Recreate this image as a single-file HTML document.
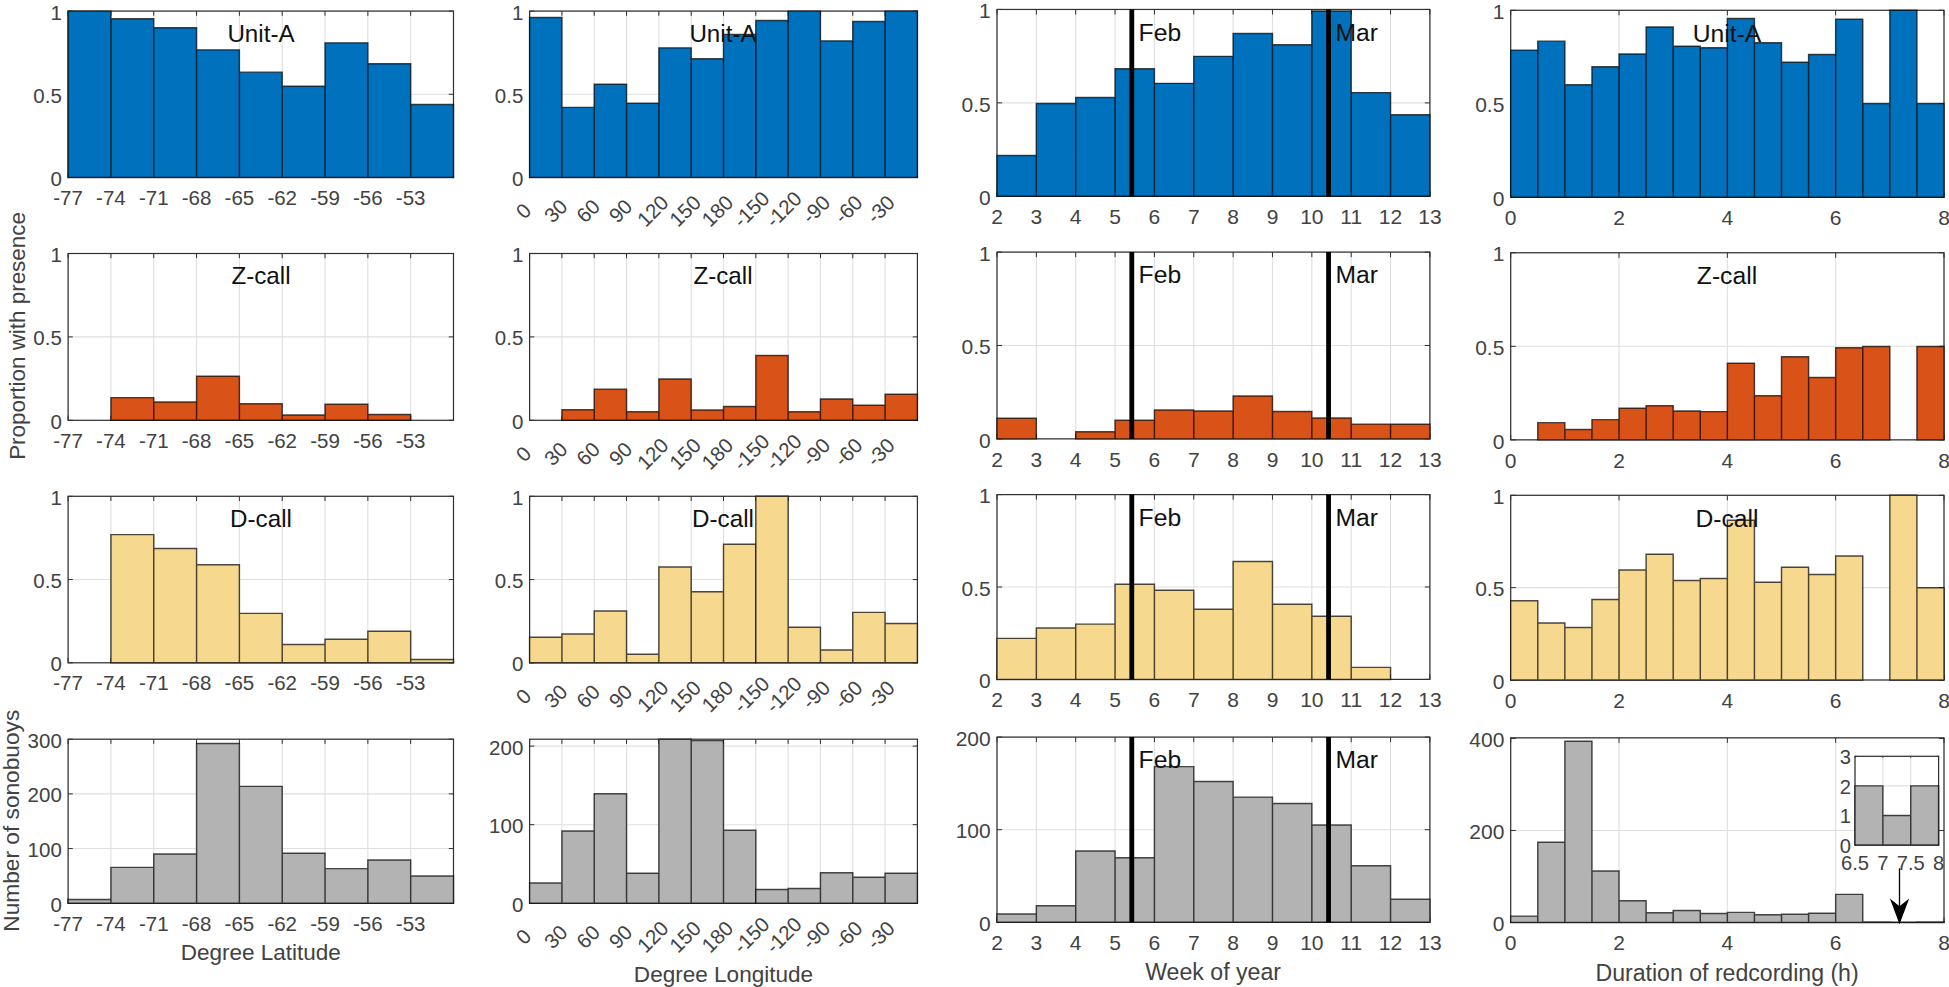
<!DOCTYPE html>
<html lang="en"><head><meta charset="utf-8"><title>Figure</title>
<style>html,body{margin:0;padding:0;background:#fff;}svg{display:block;}</style>
</head><body>
<svg width="1949" height="987" viewBox="0 0 1949 987" font-family='"Liberation Sans", Arial, Helvetica, sans-serif'>
<rect width="1949" height="987" fill="#fff"/>
<g>
<path d="M68.1 11.1V177.4M110.92 11.1V177.4M153.74 11.1V177.4M196.57 11.1V177.4M239.39 11.1V177.4M282.21 11.1V177.4M325.03 11.1V177.4M367.86 11.1V177.4M410.68 11.1V177.4M68.1 177.4H453.5M68.1 94.25H453.5M68.1 11.1H453.5" stroke="#dfdfdf" stroke-width="1.1" fill="none"/>
<path d="M68.1 177.4v-4.7M68.1 11.1v4.7M110.92 177.4v-4.7M110.92 11.1v4.7M153.74 177.4v-4.7M153.74 11.1v4.7M196.57 177.4v-4.7M196.57 11.1v4.7M239.39 177.4v-4.7M239.39 11.1v4.7M282.21 177.4v-4.7M282.21 11.1v4.7M325.03 177.4v-4.7M325.03 11.1v4.7M367.86 177.4v-4.7M367.86 11.1v4.7M410.68 177.4v-4.7M410.68 11.1v4.7M68.1 177.4h4.7M453.5 177.4h-4.7M68.1 94.25h4.7M453.5 94.25h-4.7M68.1 11.1h4.7M453.5 11.1h-4.7" stroke="#303030" stroke-width="1" fill="none"/>
<rect x="68.1" y="11.1" width="385.4" height="166.3" fill="none" stroke="#303030" stroke-width="1.2"/>
<path d="M68.1 177.4V11.1H110.92V177.4ZM110.92 177.4V18.75H153.74V177.4ZM153.74 177.4V27.73H196.57V177.4ZM196.57 177.4V49.85H239.39V177.4ZM239.39 177.4V72.13H282.21V177.4ZM282.21 177.4V86.27H325.03V177.4ZM325.03 177.4V42.86H367.86V177.4ZM367.86 177.4V63.65H410.68V177.4ZM410.68 177.4V104.56H453.5V177.4Z" fill="#0072bd" stroke="#000" stroke-opacity="0.7" stroke-width="1.45" stroke-linejoin="miter"/>
<text x="261" y="41.6" font-size="24.2" fill="#111" text-anchor="middle">Unit-A</text>
<g font-size="20.5" fill="#424242">
<text x="61.8" y="185.89" text-anchor="end">0</text>
<text x="61.8" y="102.74" text-anchor="end">0.5</text>
<text x="61.8" y="19.59" text-anchor="end">1</text>
<text x="68.1" y="205" text-anchor="middle">-77</text>
<text x="110.92" y="205" text-anchor="middle">-74</text>
<text x="153.74" y="205" text-anchor="middle">-71</text>
<text x="196.57" y="205" text-anchor="middle">-68</text>
<text x="239.39" y="205" text-anchor="middle">-65</text>
<text x="282.21" y="205" text-anchor="middle">-62</text>
<text x="325.03" y="205" text-anchor="middle">-59</text>
<text x="367.86" y="205" text-anchor="middle">-56</text>
<text x="410.68" y="205" text-anchor="middle">-53</text>
</g>
</g>
<g>
<path d="M529.6 11.1V177.4M561.92 11.1V177.4M594.23 11.1V177.4M626.55 11.1V177.4M658.87 11.1V177.4M691.18 11.1V177.4M723.5 11.1V177.4M755.82 11.1V177.4M788.13 11.1V177.4M820.45 11.1V177.4M852.77 11.1V177.4M885.08 11.1V177.4M529.6 177.4H917.4M529.6 94.25H917.4M529.6 11.1H917.4" stroke="#dfdfdf" stroke-width="1.1" fill="none"/>
<path d="M529.6 177.4v-4.7M529.6 11.1v4.7M561.92 177.4v-4.7M561.92 11.1v4.7M594.23 177.4v-4.7M594.23 11.1v4.7M626.55 177.4v-4.7M626.55 11.1v4.7M658.87 177.4v-4.7M658.87 11.1v4.7M691.18 177.4v-4.7M691.18 11.1v4.7M723.5 177.4v-4.7M723.5 11.1v4.7M755.82 177.4v-4.7M755.82 11.1v4.7M788.13 177.4v-4.7M788.13 11.1v4.7M820.45 177.4v-4.7M820.45 11.1v4.7M852.77 177.4v-4.7M852.77 11.1v4.7M885.08 177.4v-4.7M885.08 11.1v4.7M529.6 177.4h4.7M917.4 177.4h-4.7M529.6 94.25h4.7M917.4 94.25h-4.7M529.6 11.1h4.7M917.4 11.1h-4.7" stroke="#303030" stroke-width="1" fill="none"/>
<rect x="529.6" y="11.1" width="387.8" height="166.3" fill="none" stroke="#303030" stroke-width="1.2"/>
<path d="M529.6 177.4V17.59H561.92V177.4ZM561.92 177.4V107.39H594.23V177.4ZM594.23 177.4V84.27H626.55V177.4ZM626.55 177.4V103.23H658.87V177.4ZM658.87 177.4V47.85H691.18V177.4ZM691.18 177.4V58.83H723.5V177.4ZM723.5 177.4V34.38H755.82V177.4Z" fill="#0072bd" stroke="#000" stroke-opacity="0.7" stroke-width="1.45" stroke-linejoin="miter"/>
<text x="723" y="41.6" font-size="24.2" fill="#111" text-anchor="middle">Unit-A</text>
<path d="M755.82 177.4V20.41H788.13V177.4ZM788.13 177.4V11.1H820.45V177.4ZM820.45 177.4V40.87H852.77V177.4ZM852.77 177.4V21.41H885.08V177.4ZM885.08 177.4V11.1H917.4V177.4Z" fill="#0072bd" stroke="#000" stroke-opacity="0.7" stroke-width="1.45" stroke-linejoin="miter"/>
<g font-size="20.5" fill="#424242">
<text x="523.3" y="185.89" text-anchor="end">0</text>
<text x="523.3" y="102.74" text-anchor="end">0.5</text>
<text x="523.3" y="19.59" text-anchor="end">1</text>
<text transform="translate(534.2 189.4) rotate(-45)" text-anchor="end" y="14.76">0&#160;&#160;&#160;</text>
<text transform="translate(566.52 189.4) rotate(-45)" text-anchor="end" y="14.76">30&#160;&#160;</text>
<text transform="translate(598.83 189.4) rotate(-45)" text-anchor="end" y="14.76">60&#160;&#160;</text>
<text transform="translate(631.15 189.4) rotate(-45)" text-anchor="end" y="14.76">90&#160;&#160;</text>
<text transform="translate(663.47 189.4) rotate(-45)" text-anchor="end" y="14.76">120&#160;</text>
<text transform="translate(695.78 189.4) rotate(-45)" text-anchor="end" y="14.76">150&#160;</text>
<text transform="translate(728.1 189.4) rotate(-45)" text-anchor="end" y="14.76">180&#160;</text>
<text transform="translate(760.42 189.4) rotate(-45)" text-anchor="end" y="14.76">-150</text>
<text transform="translate(792.73 189.4) rotate(-45)" text-anchor="end" y="14.76">-120</text>
<text transform="translate(825.05 189.4) rotate(-45)" text-anchor="end" y="14.76">-90&#160;</text>
<text transform="translate(857.37 189.4) rotate(-45)" text-anchor="end" y="14.76">-60&#160;</text>
<text transform="translate(889.68 189.4) rotate(-45)" text-anchor="end" y="14.76">-30&#160;</text>
</g>
</g>
<g>
<path d="M997 9.45V196.3M1036.35 9.45V196.3M1075.71 9.45V196.3M1115.06 9.45V196.3M1154.42 9.45V196.3M1193.77 9.45V196.3M1233.13 9.45V196.3M1272.48 9.45V196.3M1311.84 9.45V196.3M1351.19 9.45V196.3M1390.55 9.45V196.3M1429.9 9.45V196.3M997 196.3H1429.9M997 102.88H1429.9M997 9.45H1429.9" stroke="#dfdfdf" stroke-width="1.1" fill="none"/>
<path d="M997 196.3v-5.1M997 9.45v5.1M1036.35 196.3v-5.1M1036.35 9.45v5.1M1075.71 196.3v-5.1M1075.71 9.45v5.1M1115.06 196.3v-5.1M1115.06 9.45v5.1M1154.42 196.3v-5.1M1154.42 9.45v5.1M1193.77 196.3v-5.1M1193.77 9.45v5.1M1233.13 196.3v-5.1M1233.13 9.45v5.1M1272.48 196.3v-5.1M1272.48 9.45v5.1M1311.84 196.3v-5.1M1311.84 9.45v5.1M1351.19 196.3v-5.1M1351.19 9.45v5.1M1390.55 196.3v-5.1M1390.55 9.45v5.1M1429.9 196.3v-5.1M1429.9 9.45v5.1M997 196.3h5.1M1429.9 196.3h-5.1M997 102.88h5.1M1429.9 102.88h-5.1M997 9.45h5.1M1429.9 9.45h-5.1" stroke="#303030" stroke-width="1" fill="none"/>
<rect x="997" y="9.45" width="432.9" height="186.85" fill="none" stroke="#303030" stroke-width="1.2"/>
<path d="M997 196.3V155.47H1036.35V196.3ZM1036.35 196.3V103.44H1075.71V196.3ZM1075.71 196.3V97.46H1115.06V196.3ZM1115.06 196.3V68.68H1154.42V196.3ZM1154.42 196.3V83.35H1193.77V196.3ZM1193.77 196.3V56.35H1233.13V196.3ZM1233.13 196.3V33.55H1272.48V196.3ZM1272.48 196.3V44.84H1311.84V196.3ZM1311.84 196.3V10.94H1351.19V196.3ZM1351.19 196.3V92.6H1390.55V196.3ZM1390.55 196.3V114.65H1429.9V196.3Z" fill="#0072bd" stroke="#000" stroke-opacity="0.7" stroke-width="1.45" stroke-linejoin="miter"/>
<text x="1138.6" y="40.55" font-size="24.7" fill="#111">Feb</text>
<text x="1335.5" y="40.55" font-size="24.7" fill="#111">Mar</text>
<line x1="1131.79" x2="1131.79" y1="9.45" y2="196.3" stroke="#000" stroke-width="4.8"/>
<line x1="1328.56" x2="1328.56" y1="9.45" y2="196.3" stroke="#000" stroke-width="4.8"/>
<g font-size="21.0" fill="#424242">
<text x="990.7" y="204.97" text-anchor="end">0</text>
<text x="990.7" y="111.54" text-anchor="end">0.5</text>
<text x="990.7" y="18.12" text-anchor="end">1</text>
<text x="997" y="224.1" text-anchor="middle">2</text>
<text x="1036.35" y="224.1" text-anchor="middle">3</text>
<text x="1075.71" y="224.1" text-anchor="middle">4</text>
<text x="1115.06" y="224.1" text-anchor="middle">5</text>
<text x="1154.42" y="224.1" text-anchor="middle">6</text>
<text x="1193.77" y="224.1" text-anchor="middle">7</text>
<text x="1233.13" y="224.1" text-anchor="middle">8</text>
<text x="1272.48" y="224.1" text-anchor="middle">9</text>
<text x="1311.84" y="224.1" text-anchor="middle">10</text>
<text x="1351.19" y="224.1" text-anchor="middle">11</text>
<text x="1390.55" y="224.1" text-anchor="middle">12</text>
<text x="1429.9" y="224.1" text-anchor="middle">13</text>
</g>
</g>
<g>
<path d="M1510.7 10.3V197.2M1619.03 10.3V197.2M1727.35 10.3V197.2M1835.67 10.3V197.2M1944 10.3V197.2M1510.7 197.2H1944M1510.7 103.75H1944M1510.7 10.3H1944" stroke="#dfdfdf" stroke-width="1.1" fill="none"/>
<path d="M1510.7 197.2v-5.1M1510.7 10.3v5.1M1619.03 197.2v-5.1M1619.03 10.3v5.1M1727.35 197.2v-5.1M1727.35 10.3v5.1M1835.67 197.2v-5.1M1835.67 10.3v5.1M1944 197.2v-5.1M1944 10.3v5.1M1510.7 197.2h5.1M1944 197.2h-5.1M1510.7 103.75h5.1M1944 103.75h-5.1M1510.7 10.3h5.1M1944 10.3h-5.1" stroke="#303030" stroke-width="1" fill="none"/>
<rect x="1510.7" y="10.3" width="433.3" height="186.9" fill="none" stroke="#303030" stroke-width="1.2"/>
<path d="M1510.7 197.2V50.11H1537.78V197.2ZM1537.78 197.2V41.14H1564.86V197.2ZM1564.86 197.2V84.69H1591.94V197.2ZM1591.94 197.2V66.74H1619.03V197.2ZM1619.03 197.2V54.03H1646.11V197.2ZM1646.11 197.2V26.93H1673.19V197.2ZM1673.19 197.2V46.18H1700.27V197.2ZM1700.27 197.2V47.68H1727.35V197.2ZM1727.35 197.2V18.52H1754.43V197.2ZM1754.43 197.2V42.82H1781.51V197.2ZM1781.51 197.2V62.16H1808.59V197.2ZM1808.59 197.2V54.41H1835.67V197.2ZM1835.67 197.2V19.27H1862.76V197.2ZM1862.76 197.2V103.56H1889.84V197.2ZM1889.84 197.2V10.3H1916.92V197.2ZM1916.92 197.2V103.56H1944V197.2Z" fill="#0072bd" stroke="#000" stroke-opacity="0.7" stroke-width="1.45" stroke-linejoin="miter"/>
<text x="1727" y="41.8" font-size="24.7" fill="#111" text-anchor="middle">Unit-A</text>
<g font-size="21.0" fill="#424242">
<text x="1504.4" y="205.87" text-anchor="end">0</text>
<text x="1504.4" y="112.42" text-anchor="end">0.5</text>
<text x="1504.4" y="18.97" text-anchor="end">1</text>
<text x="1510.7" y="225" text-anchor="middle">0</text>
<text x="1619.03" y="225" text-anchor="middle">2</text>
<text x="1727.35" y="225" text-anchor="middle">4</text>
<text x="1835.67" y="225" text-anchor="middle">6</text>
<text x="1944" y="225" text-anchor="middle">8</text>
</g>
</g>
<g>
<path d="M68.1 253.5V420.3M110.92 253.5V420.3M153.74 253.5V420.3M196.57 253.5V420.3M239.39 253.5V420.3M282.21 253.5V420.3M325.03 253.5V420.3M367.86 253.5V420.3M410.68 253.5V420.3M68.1 420.3H453.5M68.1 336.9H453.5M68.1 253.5H453.5" stroke="#dfdfdf" stroke-width="1.1" fill="none"/>
<path d="M68.1 420.3v-4.7M68.1 253.5v4.7M110.92 420.3v-4.7M110.92 253.5v4.7M153.74 420.3v-4.7M153.74 253.5v4.7M196.57 420.3v-4.7M196.57 253.5v4.7M239.39 420.3v-4.7M239.39 253.5v4.7M282.21 420.3v-4.7M282.21 253.5v4.7M325.03 420.3v-4.7M325.03 253.5v4.7M367.86 420.3v-4.7M367.86 253.5v4.7M410.68 420.3v-4.7M410.68 253.5v4.7M68.1 420.3h4.7M453.5 420.3h-4.7M68.1 336.9h4.7M453.5 336.9h-4.7M68.1 253.5h4.7M453.5 253.5h-4.7" stroke="#303030" stroke-width="1" fill="none"/>
<rect x="68.1" y="253.5" width="385.4" height="166.8" fill="none" stroke="#303030" stroke-width="1.2"/>
<path d="M110.92 420.3V397.62H153.74V420.3ZM153.74 420.3V401.95H196.57V420.3ZM196.57 420.3V376.26H239.39V420.3ZM239.39 420.3V403.79H282.21V420.3ZM282.21 420.3V414.96H325.03V420.3ZM325.03 420.3V404.29H367.86V420.3ZM367.86 420.3V414.46H410.68V420.3Z" fill="#d95319" stroke="#000" stroke-opacity="0.7" stroke-width="1.45" stroke-linejoin="miter"/>
<text x="261" y="284" font-size="24.2" fill="#111" text-anchor="middle">Z-call</text>
<g font-size="20.5" fill="#424242">
<text x="61.8" y="428.79" text-anchor="end">0</text>
<text x="61.8" y="345.39" text-anchor="end">0.5</text>
<text x="61.8" y="261.99" text-anchor="end">1</text>
<text x="68.1" y="447.9" text-anchor="middle">-77</text>
<text x="110.92" y="447.9" text-anchor="middle">-74</text>
<text x="153.74" y="447.9" text-anchor="middle">-71</text>
<text x="196.57" y="447.9" text-anchor="middle">-68</text>
<text x="239.39" y="447.9" text-anchor="middle">-65</text>
<text x="282.21" y="447.9" text-anchor="middle">-62</text>
<text x="325.03" y="447.9" text-anchor="middle">-59</text>
<text x="367.86" y="447.9" text-anchor="middle">-56</text>
<text x="410.68" y="447.9" text-anchor="middle">-53</text>
</g>
</g>
<g>
<path d="M529.6 253.5V420.3M561.92 253.5V420.3M594.23 253.5V420.3M626.55 253.5V420.3M658.87 253.5V420.3M691.18 253.5V420.3M723.5 253.5V420.3M755.82 253.5V420.3M788.13 253.5V420.3M820.45 253.5V420.3M852.77 253.5V420.3M885.08 253.5V420.3M529.6 420.3H917.4M529.6 336.9H917.4M529.6 253.5H917.4" stroke="#dfdfdf" stroke-width="1.1" fill="none"/>
<path d="M529.6 420.3v-4.7M529.6 253.5v4.7M561.92 420.3v-4.7M561.92 253.5v4.7M594.23 420.3v-4.7M594.23 253.5v4.7M626.55 420.3v-4.7M626.55 253.5v4.7M658.87 420.3v-4.7M658.87 253.5v4.7M691.18 420.3v-4.7M691.18 253.5v4.7M723.5 420.3v-4.7M723.5 253.5v4.7M755.82 420.3v-4.7M755.82 253.5v4.7M788.13 420.3v-4.7M788.13 253.5v4.7M820.45 420.3v-4.7M820.45 253.5v4.7M852.77 420.3v-4.7M852.77 253.5v4.7M885.08 420.3v-4.7M885.08 253.5v4.7M529.6 420.3h4.7M917.4 420.3h-4.7M529.6 336.9h4.7M917.4 336.9h-4.7M529.6 253.5h4.7M917.4 253.5h-4.7" stroke="#303030" stroke-width="1" fill="none"/>
<rect x="529.6" y="253.5" width="387.8" height="166.8" fill="none" stroke="#303030" stroke-width="1.2"/>
<path d="M561.92 420.3V409.79H594.23V420.3ZM594.23 420.3V389.11H626.55V420.3ZM626.55 420.3V411.79H658.87V420.3ZM658.87 420.3V378.93H691.18V420.3ZM691.18 420.3V409.96H723.5V420.3ZM723.5 420.3V406.46H755.82V420.3Z" fill="#d95319" stroke="#000" stroke-opacity="0.7" stroke-width="1.45" stroke-linejoin="miter"/>
<text x="723" y="284" font-size="24.2" fill="#111" text-anchor="middle">Z-call</text>
<path d="M755.82 420.3V355.41H788.13V420.3ZM788.13 420.3V411.79H820.45V420.3ZM820.45 420.3V398.95H852.77V420.3ZM852.77 420.3V405.29H885.08V420.3ZM885.08 420.3V394.28H917.4V420.3Z" fill="#d95319" stroke="#000" stroke-opacity="0.7" stroke-width="1.45" stroke-linejoin="miter"/>
<g font-size="20.5" fill="#424242">
<text x="523.3" y="428.79" text-anchor="end">0</text>
<text x="523.3" y="345.39" text-anchor="end">0.5</text>
<text x="523.3" y="261.99" text-anchor="end">1</text>
<text transform="translate(534.2 432.3) rotate(-45)" text-anchor="end" y="14.76">0&#160;&#160;&#160;</text>
<text transform="translate(566.52 432.3) rotate(-45)" text-anchor="end" y="14.76">30&#160;&#160;</text>
<text transform="translate(598.83 432.3) rotate(-45)" text-anchor="end" y="14.76">60&#160;&#160;</text>
<text transform="translate(631.15 432.3) rotate(-45)" text-anchor="end" y="14.76">90&#160;&#160;</text>
<text transform="translate(663.47 432.3) rotate(-45)" text-anchor="end" y="14.76">120&#160;</text>
<text transform="translate(695.78 432.3) rotate(-45)" text-anchor="end" y="14.76">150&#160;</text>
<text transform="translate(728.1 432.3) rotate(-45)" text-anchor="end" y="14.76">180&#160;</text>
<text transform="translate(760.42 432.3) rotate(-45)" text-anchor="end" y="14.76">-150</text>
<text transform="translate(792.73 432.3) rotate(-45)" text-anchor="end" y="14.76">-120</text>
<text transform="translate(825.05 432.3) rotate(-45)" text-anchor="end" y="14.76">-90&#160;</text>
<text transform="translate(857.37 432.3) rotate(-45)" text-anchor="end" y="14.76">-60&#160;</text>
<text transform="translate(889.68 432.3) rotate(-45)" text-anchor="end" y="14.76">-30&#160;</text>
</g>
</g>
<g>
<path d="M997 252.1V438.85M1036.35 252.1V438.85M1075.71 252.1V438.85M1115.06 252.1V438.85M1154.42 252.1V438.85M1193.77 252.1V438.85M1233.13 252.1V438.85M1272.48 252.1V438.85M1311.84 252.1V438.85M1351.19 252.1V438.85M1390.55 252.1V438.85M1429.9 252.1V438.85M997 438.85H1429.9M997 345.48H1429.9M997 252.1H1429.9" stroke="#dfdfdf" stroke-width="1.1" fill="none"/>
<path d="M997 438.85v-5.1M997 252.1v5.1M1036.35 438.85v-5.1M1036.35 252.1v5.1M1075.71 438.85v-5.1M1075.71 252.1v5.1M1115.06 438.85v-5.1M1115.06 252.1v5.1M1154.42 438.85v-5.1M1154.42 252.1v5.1M1193.77 438.85v-5.1M1193.77 252.1v5.1M1233.13 438.85v-5.1M1233.13 252.1v5.1M1272.48 438.85v-5.1M1272.48 252.1v5.1M1311.84 438.85v-5.1M1311.84 252.1v5.1M1351.19 438.85v-5.1M1351.19 252.1v5.1M1390.55 438.85v-5.1M1390.55 252.1v5.1M1429.9 438.85v-5.1M1429.9 252.1v5.1M997 438.85h5.1M1429.9 438.85h-5.1M997 345.48h5.1M1429.9 345.48h-5.1M997 252.1h5.1M1429.9 252.1h-5.1" stroke="#303030" stroke-width="1" fill="none"/>
<rect x="997" y="252.1" width="432.9" height="186.75" fill="none" stroke="#303030" stroke-width="1.2"/>
<path d="M997 438.85V418.31H1036.35V438.85ZM1075.71 438.85V431.75H1115.06V438.85ZM1115.06 438.85V420.18H1154.42V438.85ZM1154.42 438.85V410.09H1193.77V438.85ZM1193.77 438.85V411.02H1233.13V438.85ZM1233.13 438.85V396.08H1272.48V438.85ZM1272.48 438.85V411.4H1311.84V438.85ZM1311.84 438.85V417.93H1351.19V438.85ZM1351.19 438.85V424.1H1390.55V438.85ZM1390.55 438.85V424.28H1429.9V438.85Z" fill="#d95319" stroke="#000" stroke-opacity="0.7" stroke-width="1.45" stroke-linejoin="miter"/>
<text x="1138.6" y="283.2" font-size="24.7" fill="#111">Feb</text>
<text x="1335.5" y="283.2" font-size="24.7" fill="#111">Mar</text>
<line x1="1131.79" x2="1131.79" y1="252.1" y2="438.85" stroke="#000" stroke-width="4.8"/>
<line x1="1328.56" x2="1328.56" y1="252.1" y2="438.85" stroke="#000" stroke-width="4.8"/>
<g font-size="21.0" fill="#424242">
<text x="990.7" y="447.52" text-anchor="end">0</text>
<text x="990.7" y="354.14" text-anchor="end">0.5</text>
<text x="990.7" y="260.77" text-anchor="end">1</text>
<text x="997" y="466.65" text-anchor="middle">2</text>
<text x="1036.35" y="466.65" text-anchor="middle">3</text>
<text x="1075.71" y="466.65" text-anchor="middle">4</text>
<text x="1115.06" y="466.65" text-anchor="middle">5</text>
<text x="1154.42" y="466.65" text-anchor="middle">6</text>
<text x="1193.77" y="466.65" text-anchor="middle">7</text>
<text x="1233.13" y="466.65" text-anchor="middle">8</text>
<text x="1272.48" y="466.65" text-anchor="middle">9</text>
<text x="1311.84" y="466.65" text-anchor="middle">10</text>
<text x="1351.19" y="466.65" text-anchor="middle">11</text>
<text x="1390.55" y="466.65" text-anchor="middle">12</text>
<text x="1429.9" y="466.65" text-anchor="middle">13</text>
</g>
</g>
<g>
<path d="M1510.7 252.75V439.85M1619.03 252.75V439.85M1727.35 252.75V439.85M1835.67 252.75V439.85M1944 252.75V439.85M1510.7 439.85H1944M1510.7 346.3H1944M1510.7 252.75H1944" stroke="#dfdfdf" stroke-width="1.1" fill="none"/>
<path d="M1510.7 439.85v-5.1M1510.7 252.75v5.1M1619.03 439.85v-5.1M1619.03 252.75v5.1M1727.35 439.85v-5.1M1727.35 252.75v5.1M1835.67 439.85v-5.1M1835.67 252.75v5.1M1944 439.85v-5.1M1944 252.75v5.1M1510.7 439.85h5.1M1944 439.85h-5.1M1510.7 346.3h5.1M1944 346.3h-5.1M1510.7 252.75h5.1M1944 252.75h-5.1" stroke="#303030" stroke-width="1" fill="none"/>
<rect x="1510.7" y="252.75" width="433.3" height="187.1" fill="none" stroke="#303030" stroke-width="1.2"/>
<path d="M1537.78 439.85V422.64H1564.86V439.85ZM1564.86 439.85V429.56H1591.94V439.85ZM1591.94 439.85V419.64H1619.03V439.85ZM1619.03 439.85V408.23H1646.11V439.85ZM1646.11 439.85V405.8H1673.19V439.85ZM1673.19 439.85V411.04H1700.27V439.85ZM1700.27 439.85V411.6H1727.35V439.85ZM1727.35 439.85V363.33H1754.43V439.85ZM1754.43 439.85V395.69H1781.51V439.85ZM1781.51 439.85V356.78H1808.59V439.85ZM1808.59 439.85V377.55H1835.67V439.85ZM1835.67 439.85V347.8H1862.76V439.85ZM1862.76 439.85V346.49H1889.84V439.85ZM1916.92 439.85V346.49H1944V439.85Z" fill="#d95319" stroke="#000" stroke-opacity="0.7" stroke-width="1.45" stroke-linejoin="miter"/>
<text x="1727" y="284.25" font-size="24.7" fill="#111" text-anchor="middle">Z-call</text>
<g font-size="21.0" fill="#424242">
<text x="1504.4" y="448.52" text-anchor="end">0</text>
<text x="1504.4" y="354.97" text-anchor="end">0.5</text>
<text x="1504.4" y="261.42" text-anchor="end">1</text>
<text x="1510.7" y="467.65" text-anchor="middle">0</text>
<text x="1619.03" y="467.65" text-anchor="middle">2</text>
<text x="1727.35" y="467.65" text-anchor="middle">4</text>
<text x="1835.67" y="467.65" text-anchor="middle">6</text>
<text x="1944" y="467.65" text-anchor="middle">8</text>
</g>
</g>
<g>
<path d="M68.1 496.3V662.8M110.92 496.3V662.8M153.74 496.3V662.8M196.57 496.3V662.8M239.39 496.3V662.8M282.21 496.3V662.8M325.03 496.3V662.8M367.86 496.3V662.8M410.68 496.3V662.8M68.1 662.8H453.5M68.1 579.55H453.5M68.1 496.3H453.5" stroke="#dfdfdf" stroke-width="1.1" fill="none"/>
<path d="M68.1 662.8v-4.7M68.1 496.3v4.7M110.92 662.8v-4.7M110.92 496.3v4.7M153.74 662.8v-4.7M153.74 496.3v4.7M196.57 662.8v-4.7M196.57 496.3v4.7M239.39 662.8v-4.7M239.39 496.3v4.7M282.21 662.8v-4.7M282.21 496.3v4.7M325.03 662.8v-4.7M325.03 496.3v4.7M367.86 662.8v-4.7M367.86 496.3v4.7M410.68 662.8v-4.7M410.68 496.3v4.7M68.1 662.8h4.7M453.5 662.8h-4.7M68.1 579.55h4.7M453.5 579.55h-4.7M68.1 496.3h4.7M453.5 496.3h-4.7" stroke="#303030" stroke-width="1" fill="none"/>
<rect x="68.1" y="496.3" width="385.4" height="166.5" fill="none" stroke="#303030" stroke-width="1.2"/>
<path d="M110.92 662.8V534.6H153.74V662.8ZM153.74 662.8V548.58H196.57V662.8ZM196.57 662.8V564.73H239.39V662.8ZM239.39 662.8V613.35H282.21V662.8ZM282.21 662.8V644.49H325.03V662.8ZM325.03 662.8V639.16H367.86V662.8ZM367.86 662.8V631.16H410.68V662.8ZM410.68 662.8V659.47H453.5V662.8Z" fill="#f6d98e" stroke="#000" stroke-opacity="0.7" stroke-width="1.45" stroke-linejoin="miter"/>
<text x="261" y="526.8" font-size="24.2" fill="#111" text-anchor="middle">D-call</text>
<g font-size="20.5" fill="#424242">
<text x="61.8" y="671.29" text-anchor="end">0</text>
<text x="61.8" y="588.04" text-anchor="end">0.5</text>
<text x="61.8" y="504.79" text-anchor="end">1</text>
<text x="68.1" y="690.4" text-anchor="middle">-77</text>
<text x="110.92" y="690.4" text-anchor="middle">-74</text>
<text x="153.74" y="690.4" text-anchor="middle">-71</text>
<text x="196.57" y="690.4" text-anchor="middle">-68</text>
<text x="239.39" y="690.4" text-anchor="middle">-65</text>
<text x="282.21" y="690.4" text-anchor="middle">-62</text>
<text x="325.03" y="690.4" text-anchor="middle">-59</text>
<text x="367.86" y="690.4" text-anchor="middle">-56</text>
<text x="410.68" y="690.4" text-anchor="middle">-53</text>
</g>
</g>
<g>
<path d="M529.6 496.3V662.8M561.92 496.3V662.8M594.23 496.3V662.8M626.55 496.3V662.8M658.87 496.3V662.8M691.18 496.3V662.8M723.5 496.3V662.8M755.82 496.3V662.8M788.13 496.3V662.8M820.45 496.3V662.8M852.77 496.3V662.8M885.08 496.3V662.8M529.6 662.8H917.4M529.6 579.55H917.4M529.6 496.3H917.4" stroke="#dfdfdf" stroke-width="1.1" fill="none"/>
<path d="M529.6 662.8v-4.7M529.6 496.3v4.7M561.92 662.8v-4.7M561.92 496.3v4.7M594.23 662.8v-4.7M594.23 496.3v4.7M626.55 662.8v-4.7M626.55 496.3v4.7M658.87 662.8v-4.7M658.87 496.3v4.7M691.18 662.8v-4.7M691.18 496.3v4.7M723.5 662.8v-4.7M723.5 496.3v4.7M755.82 662.8v-4.7M755.82 496.3v4.7M788.13 662.8v-4.7M788.13 496.3v4.7M820.45 662.8v-4.7M820.45 496.3v4.7M852.77 662.8v-4.7M852.77 496.3v4.7M885.08 662.8v-4.7M885.08 496.3v4.7M529.6 662.8h4.7M917.4 662.8h-4.7M529.6 579.55h4.7M917.4 579.55h-4.7M529.6 496.3h4.7M917.4 496.3h-4.7" stroke="#303030" stroke-width="1" fill="none"/>
<rect x="529.6" y="496.3" width="387.8" height="166.5" fill="none" stroke="#303030" stroke-width="1.2"/>
<path d="M529.6 662.8V637.33H561.92V662.8ZM561.92 662.8V634H594.23V662.8ZM594.23 662.8V611.02H626.55V662.8ZM626.55 662.8V654.31H658.87V662.8ZM658.87 662.8V567.06H691.18V662.8ZM691.18 662.8V591.7H723.5V662.8ZM723.5 662.8V544.17H755.82V662.8Z" fill="#f6d98e" stroke="#000" stroke-opacity="0.7" stroke-width="1.45" stroke-linejoin="miter"/>
<text x="723" y="526.8" font-size="24.2" fill="#111" text-anchor="middle">D-call</text>
<path d="M755.82 662.8V496.3H788.13V662.8ZM788.13 662.8V627.34H820.45V662.8ZM820.45 662.8V649.98H852.77V662.8ZM852.77 662.8V612.35H885.08V662.8ZM885.08 662.8V623.42H917.4V662.8Z" fill="#f6d98e" stroke="#000" stroke-opacity="0.7" stroke-width="1.45" stroke-linejoin="miter"/>
<g font-size="20.5" fill="#424242">
<text x="523.3" y="671.29" text-anchor="end">0</text>
<text x="523.3" y="588.04" text-anchor="end">0.5</text>
<text x="523.3" y="504.79" text-anchor="end">1</text>
<text transform="translate(534.2 674.8) rotate(-45)" text-anchor="end" y="14.76">0&#160;&#160;&#160;</text>
<text transform="translate(566.52 674.8) rotate(-45)" text-anchor="end" y="14.76">30&#160;&#160;</text>
<text transform="translate(598.83 674.8) rotate(-45)" text-anchor="end" y="14.76">60&#160;&#160;</text>
<text transform="translate(631.15 674.8) rotate(-45)" text-anchor="end" y="14.76">90&#160;&#160;</text>
<text transform="translate(663.47 674.8) rotate(-45)" text-anchor="end" y="14.76">120&#160;</text>
<text transform="translate(695.78 674.8) rotate(-45)" text-anchor="end" y="14.76">150&#160;</text>
<text transform="translate(728.1 674.8) rotate(-45)" text-anchor="end" y="14.76">180&#160;</text>
<text transform="translate(760.42 674.8) rotate(-45)" text-anchor="end" y="14.76">-150</text>
<text transform="translate(792.73 674.8) rotate(-45)" text-anchor="end" y="14.76">-120</text>
<text transform="translate(825.05 674.8) rotate(-45)" text-anchor="end" y="14.76">-90&#160;</text>
<text transform="translate(857.37 674.8) rotate(-45)" text-anchor="end" y="14.76">-60&#160;</text>
<text transform="translate(889.68 674.8) rotate(-45)" text-anchor="end" y="14.76">-30&#160;</text>
</g>
</g>
<g>
<path d="M997 494.6V679.4M1036.35 494.6V679.4M1075.71 494.6V679.4M1115.06 494.6V679.4M1154.42 494.6V679.4M1193.77 494.6V679.4M1233.13 494.6V679.4M1272.48 494.6V679.4M1311.84 494.6V679.4M1351.19 494.6V679.4M1390.55 494.6V679.4M1429.9 494.6V679.4M997 679.4H1429.9M997 587H1429.9M997 494.6H1429.9" stroke="#dfdfdf" stroke-width="1.1" fill="none"/>
<path d="M997 679.4v-5.1M997 494.6v5.1M1036.35 679.4v-5.1M1036.35 494.6v5.1M1075.71 679.4v-5.1M1075.71 494.6v5.1M1115.06 679.4v-5.1M1115.06 494.6v5.1M1154.42 679.4v-5.1M1154.42 494.6v5.1M1193.77 679.4v-5.1M1193.77 494.6v5.1M1233.13 679.4v-5.1M1233.13 494.6v5.1M1272.48 679.4v-5.1M1272.48 494.6v5.1M1311.84 679.4v-5.1M1311.84 494.6v5.1M1351.19 679.4v-5.1M1351.19 494.6v5.1M1390.55 679.4v-5.1M1390.55 494.6v5.1M1429.9 679.4v-5.1M1429.9 494.6v5.1M997 679.4h5.1M1429.9 679.4h-5.1M997 587h5.1M1429.9 587h-5.1M997 494.6h5.1M1429.9 494.6h-5.1" stroke="#303030" stroke-width="1" fill="none"/>
<rect x="997" y="494.6" width="432.9" height="184.8" fill="none" stroke="#303030" stroke-width="1.2"/>
<path d="M997 679.4V638.37H1036.35V679.4ZM1036.35 679.4V628.03H1075.71V679.4ZM1075.71 679.4V624.14H1115.06V679.4ZM1115.06 679.4V584.23H1154.42V679.4ZM1154.42 679.4V590.33H1193.77V679.4ZM1193.77 679.4V609.18H1233.13V679.4ZM1233.13 679.4V561.59H1272.48V679.4ZM1272.48 679.4V604.19H1311.84V679.4ZM1311.84 679.4V616.2H1351.19V679.4ZM1351.19 679.4V667.39H1390.55V679.4Z" fill="#f6d98e" stroke="#000" stroke-opacity="0.7" stroke-width="1.45" stroke-linejoin="miter"/>
<text x="1138.6" y="525.7" font-size="24.7" fill="#111">Feb</text>
<text x="1335.5" y="525.7" font-size="24.7" fill="#111">Mar</text>
<line x1="1131.79" x2="1131.79" y1="494.6" y2="679.4" stroke="#000" stroke-width="4.8"/>
<line x1="1328.56" x2="1328.56" y1="494.6" y2="679.4" stroke="#000" stroke-width="4.8"/>
<g font-size="21.0" fill="#424242">
<text x="990.7" y="688.07" text-anchor="end">0</text>
<text x="990.7" y="595.67" text-anchor="end">0.5</text>
<text x="990.7" y="503.27" text-anchor="end">1</text>
<text x="997" y="707.2" text-anchor="middle">2</text>
<text x="1036.35" y="707.2" text-anchor="middle">3</text>
<text x="1075.71" y="707.2" text-anchor="middle">4</text>
<text x="1115.06" y="707.2" text-anchor="middle">5</text>
<text x="1154.42" y="707.2" text-anchor="middle">6</text>
<text x="1193.77" y="707.2" text-anchor="middle">7</text>
<text x="1233.13" y="707.2" text-anchor="middle">8</text>
<text x="1272.48" y="707.2" text-anchor="middle">9</text>
<text x="1311.84" y="707.2" text-anchor="middle">10</text>
<text x="1351.19" y="707.2" text-anchor="middle">11</text>
<text x="1390.55" y="707.2" text-anchor="middle">12</text>
<text x="1429.9" y="707.2" text-anchor="middle">13</text>
</g>
</g>
<g>
<path d="M1510.7 495.3V680M1619.03 495.3V680M1727.35 495.3V680M1835.67 495.3V680M1944 495.3V680M1510.7 680H1944M1510.7 587.65H1944M1510.7 495.3H1944" stroke="#dfdfdf" stroke-width="1.1" fill="none"/>
<path d="M1510.7 680v-5.1M1510.7 495.3v5.1M1619.03 680v-5.1M1619.03 495.3v5.1M1727.35 680v-5.1M1727.35 495.3v5.1M1835.67 680v-5.1M1835.67 495.3v5.1M1944 680v-5.1M1944 495.3v5.1M1510.7 680h5.1M1944 680h-5.1M1510.7 587.65h5.1M1944 587.65h-5.1M1510.7 495.3h5.1M1944 495.3h-5.1" stroke="#303030" stroke-width="1" fill="none"/>
<rect x="1510.7" y="495.3" width="433.3" height="184.7" fill="none" stroke="#303030" stroke-width="1.2"/>
<path d="M1510.7 680V600.76H1537.78V680ZM1537.78 680V622.93H1564.86V680ZM1564.86 680V627.55H1591.94V680ZM1591.94 680V599.47H1619.03V680ZM1619.03 680V569.92H1646.11V680ZM1646.11 680V554.22H1673.19V680ZM1673.19 680V580.45H1700.27V680ZM1700.27 680V578.41H1727.35V680ZM1727.35 680V520.23H1754.43V680ZM1754.43 680V582.29H1781.51V680ZM1781.51 680V567.33H1808.59V680ZM1808.59 680V574.54H1835.67V680ZM1835.67 680V556.07H1862.76V680ZM1889.84 680V495.3H1916.92V680ZM1916.92 680V587.65H1944V680Z" fill="#f6d98e" stroke="#000" stroke-opacity="0.7" stroke-width="1.45" stroke-linejoin="miter"/>
<text x="1727" y="526.8" font-size="24.7" fill="#111" text-anchor="middle">D-call</text>
<g font-size="21.0" fill="#424242">
<text x="1504.4" y="688.67" text-anchor="end">0</text>
<text x="1504.4" y="596.32" text-anchor="end">0.5</text>
<text x="1504.4" y="503.97" text-anchor="end">1</text>
<text x="1510.7" y="707.8" text-anchor="middle">0</text>
<text x="1619.03" y="707.8" text-anchor="middle">2</text>
<text x="1727.35" y="707.8" text-anchor="middle">4</text>
<text x="1835.67" y="707.8" text-anchor="middle">6</text>
<text x="1944" y="707.8" text-anchor="middle">8</text>
</g>
</g>
<g>
<path d="M68.1 739.2V903.25M110.92 739.2V903.25M153.74 739.2V903.25M196.57 739.2V903.25M239.39 739.2V903.25M282.21 739.2V903.25M325.03 739.2V903.25M367.86 739.2V903.25M410.68 739.2V903.25M68.1 903.25H453.5M68.1 848.57H453.5M68.1 793.88H453.5M68.1 739.2H453.5" stroke="#dfdfdf" stroke-width="1.1" fill="none"/>
<path d="M68.1 903.25v-4.7M68.1 739.2v4.7M110.92 903.25v-4.7M110.92 739.2v4.7M153.74 903.25v-4.7M153.74 739.2v4.7M196.57 903.25v-4.7M196.57 739.2v4.7M239.39 903.25v-4.7M239.39 739.2v4.7M282.21 903.25v-4.7M282.21 739.2v4.7M325.03 903.25v-4.7M325.03 739.2v4.7M367.86 903.25v-4.7M367.86 739.2v4.7M410.68 903.25v-4.7M410.68 739.2v4.7M68.1 903.25h4.7M453.5 903.25h-4.7M68.1 848.57h4.7M453.5 848.57h-4.7M68.1 793.88h4.7M453.5 793.88h-4.7M68.1 739.2h4.7M453.5 739.2h-4.7" stroke="#303030" stroke-width="1" fill="none"/>
<rect x="68.1" y="739.2" width="385.4" height="164.05" fill="none" stroke="#303030" stroke-width="1.2"/>
<path d="M68.1 903.25V899.42H110.92V903.25ZM110.92 903.25V867.38H153.74V903.25ZM153.74 903.25V854.03H196.57V903.25ZM196.57 903.25V743.57H239.39V903.25ZM239.39 903.25V786.36H282.21V903.25ZM282.21 903.25V853.27H325.03V903.25ZM325.03 903.25V868.64H367.86V903.25ZM367.86 903.25V859.94H410.68V903.25ZM410.68 903.25V876.07H453.5V903.25Z" fill="#b3b3b3" stroke="#000" stroke-opacity="0.7" stroke-width="1.45" stroke-linejoin="miter"/>
<g font-size="20.5" fill="#424242">
<text x="61.8" y="911.74" text-anchor="end">0</text>
<text x="61.8" y="857.06" text-anchor="end">100</text>
<text x="61.8" y="802.37" text-anchor="end">200</text>
<text x="61.8" y="747.69" text-anchor="end">300</text>
<text x="68.1" y="930.85" text-anchor="middle">-77</text>
<text x="110.92" y="930.85" text-anchor="middle">-74</text>
<text x="153.74" y="930.85" text-anchor="middle">-71</text>
<text x="196.57" y="930.85" text-anchor="middle">-68</text>
<text x="239.39" y="930.85" text-anchor="middle">-65</text>
<text x="282.21" y="930.85" text-anchor="middle">-62</text>
<text x="325.03" y="930.85" text-anchor="middle">-59</text>
<text x="367.86" y="930.85" text-anchor="middle">-56</text>
<text x="410.68" y="930.85" text-anchor="middle">-53</text>
</g>
</g>
<g>
<path d="M529.6 739.2V903.25M561.92 739.2V903.25M594.23 739.2V903.25M626.55 739.2V903.25M658.87 739.2V903.25M691.18 739.2V903.25M723.5 739.2V903.25M755.82 739.2V903.25M788.13 739.2V903.25M820.45 739.2V903.25M852.77 739.2V903.25M885.08 739.2V903.25M529.6 903.25H917.4M529.6 824.68H917.4M529.6 746.11H917.4" stroke="#dfdfdf" stroke-width="1.1" fill="none"/>
<path d="M529.6 903.25v-4.7M529.6 739.2v4.7M561.92 903.25v-4.7M561.92 739.2v4.7M594.23 903.25v-4.7M594.23 739.2v4.7M626.55 903.25v-4.7M626.55 739.2v4.7M658.87 903.25v-4.7M658.87 739.2v4.7M691.18 903.25v-4.7M691.18 739.2v4.7M723.5 903.25v-4.7M723.5 739.2v4.7M755.82 903.25v-4.7M755.82 739.2v4.7M788.13 903.25v-4.7M788.13 739.2v4.7M820.45 903.25v-4.7M820.45 739.2v4.7M852.77 903.25v-4.7M852.77 739.2v4.7M885.08 903.25v-4.7M885.08 739.2v4.7M529.6 903.25h4.7M917.4 903.25h-4.7M529.6 824.68h4.7M917.4 824.68h-4.7M529.6 746.11h4.7M917.4 746.11h-4.7" stroke="#303030" stroke-width="1" fill="none"/>
<rect x="529.6" y="739.2" width="387.8" height="164.05" fill="none" stroke="#303030" stroke-width="1.2"/>
<path d="M529.6 903.25V882.98H561.92V903.25ZM561.92 903.25V830.97H594.23V903.25ZM594.23 903.25V793.8H626.55V903.25ZM626.55 903.25V873.24H658.87V903.25ZM658.87 903.25V739.2H691.18V903.25ZM691.18 903.25V740.61H723.5V903.25ZM723.5 903.25V830.18H755.82V903.25Z" fill="#b3b3b3" stroke="#000" stroke-opacity="0.7" stroke-width="1.45" stroke-linejoin="miter"/>
<path d="M755.82 903.25V889.42H788.13V903.25ZM788.13 903.25V888.4H820.45V903.25ZM820.45 903.25V872.77H852.77V903.25ZM852.77 903.25V877.32H885.08V903.25ZM885.08 903.25V873.24H917.4V903.25Z" fill="#b3b3b3" stroke="#000" stroke-opacity="0.7" stroke-width="1.45" stroke-linejoin="miter"/>
<g font-size="20.5" fill="#424242">
<text x="523.3" y="911.74" text-anchor="end">0</text>
<text x="523.3" y="833.17" text-anchor="end">100</text>
<text x="523.3" y="754.6" text-anchor="end">200</text>
<text transform="translate(534.2 915.25) rotate(-45)" text-anchor="end" y="14.76">0&#160;&#160;&#160;</text>
<text transform="translate(566.52 915.25) rotate(-45)" text-anchor="end" y="14.76">30&#160;&#160;</text>
<text transform="translate(598.83 915.25) rotate(-45)" text-anchor="end" y="14.76">60&#160;&#160;</text>
<text transform="translate(631.15 915.25) rotate(-45)" text-anchor="end" y="14.76">90&#160;&#160;</text>
<text transform="translate(663.47 915.25) rotate(-45)" text-anchor="end" y="14.76">120&#160;</text>
<text transform="translate(695.78 915.25) rotate(-45)" text-anchor="end" y="14.76">150&#160;</text>
<text transform="translate(728.1 915.25) rotate(-45)" text-anchor="end" y="14.76">180&#160;</text>
<text transform="translate(760.42 915.25) rotate(-45)" text-anchor="end" y="14.76">-150</text>
<text transform="translate(792.73 915.25) rotate(-45)" text-anchor="end" y="14.76">-120</text>
<text transform="translate(825.05 915.25) rotate(-45)" text-anchor="end" y="14.76">-90&#160;</text>
<text transform="translate(857.37 915.25) rotate(-45)" text-anchor="end" y="14.76">-60&#160;</text>
<text transform="translate(889.68 915.25) rotate(-45)" text-anchor="end" y="14.76">-30&#160;</text>
</g>
</g>
<g>
<path d="M997 737.1V922.3M1036.35 737.1V922.3M1075.71 737.1V922.3M1115.06 737.1V922.3M1154.42 737.1V922.3M1193.77 737.1V922.3M1233.13 737.1V922.3M1272.48 737.1V922.3M1311.84 737.1V922.3M1351.19 737.1V922.3M1390.55 737.1V922.3M1429.9 737.1V922.3M997 922.3H1429.9M997 829.7H1429.9M997 737.1H1429.9" stroke="#dfdfdf" stroke-width="1.1" fill="none"/>
<path d="M997 922.3v-5.1M997 737.1v5.1M1036.35 922.3v-5.1M1036.35 737.1v5.1M1075.71 922.3v-5.1M1075.71 737.1v5.1M1115.06 922.3v-5.1M1115.06 737.1v5.1M1154.42 922.3v-5.1M1154.42 737.1v5.1M1193.77 922.3v-5.1M1193.77 737.1v5.1M1233.13 922.3v-5.1M1233.13 737.1v5.1M1272.48 922.3v-5.1M1272.48 737.1v5.1M1311.84 922.3v-5.1M1311.84 737.1v5.1M1351.19 922.3v-5.1M1351.19 737.1v5.1M1390.55 922.3v-5.1M1390.55 737.1v5.1M1429.9 922.3v-5.1M1429.9 737.1v5.1M997 922.3h5.1M1429.9 922.3h-5.1M997 829.7h5.1M1429.9 829.7h-5.1M997 737.1h5.1M1429.9 737.1h-5.1" stroke="#303030" stroke-width="1" fill="none"/>
<rect x="997" y="737.1" width="432.9" height="185.2" fill="none" stroke="#303030" stroke-width="1.2"/>
<path d="M997 922.3V914.06H1036.35V922.3ZM1036.35 922.3V905.82H1075.71V922.3ZM1075.71 922.3V851.09H1115.06V922.3ZM1115.06 922.3V857.76H1154.42V922.3ZM1154.42 922.3V766.64H1193.77V922.3ZM1193.77 922.3V781.46H1233.13V922.3ZM1233.13 922.3V797.1H1272.48V922.3ZM1272.48 922.3V803.49H1311.84V922.3ZM1311.84 922.3V825.07H1351.19V922.3ZM1351.19 922.3V865.72H1390.55V922.3ZM1390.55 922.3V899.15H1429.9V922.3Z" fill="#b3b3b3" stroke="#000" stroke-opacity="0.7" stroke-width="1.45" stroke-linejoin="miter"/>
<text x="1138.6" y="768.2" font-size="24.7" fill="#111">Feb</text>
<text x="1335.5" y="768.2" font-size="24.7" fill="#111">Mar</text>
<line x1="1131.79" x2="1131.79" y1="737.1" y2="922.3" stroke="#000" stroke-width="4.8"/>
<line x1="1328.56" x2="1328.56" y1="737.1" y2="922.3" stroke="#000" stroke-width="4.8"/>
<g font-size="21.0" fill="#424242">
<text x="990.7" y="930.97" text-anchor="end">0</text>
<text x="990.7" y="838.37" text-anchor="end">100</text>
<text x="990.7" y="745.77" text-anchor="end">200</text>
<text x="997" y="950.1" text-anchor="middle">2</text>
<text x="1036.35" y="950.1" text-anchor="middle">3</text>
<text x="1075.71" y="950.1" text-anchor="middle">4</text>
<text x="1115.06" y="950.1" text-anchor="middle">5</text>
<text x="1154.42" y="950.1" text-anchor="middle">6</text>
<text x="1193.77" y="950.1" text-anchor="middle">7</text>
<text x="1233.13" y="950.1" text-anchor="middle">8</text>
<text x="1272.48" y="950.1" text-anchor="middle">9</text>
<text x="1311.84" y="950.1" text-anchor="middle">10</text>
<text x="1351.19" y="950.1" text-anchor="middle">11</text>
<text x="1390.55" y="950.1" text-anchor="middle">12</text>
<text x="1429.9" y="950.1" text-anchor="middle">13</text>
</g>
</g>
<g>
<path d="M1510.7 737.8V922.45M1619.03 737.8V922.45M1727.35 737.8V922.45M1835.67 737.8V922.45M1944 737.8V922.45M1510.7 922.45H1944M1510.7 830.47H1944M1510.7 738.49H1944" stroke="#dfdfdf" stroke-width="1.1" fill="none"/>
<path d="M1510.7 922.45v-5.1M1510.7 737.8v5.1M1619.03 922.45v-5.1M1619.03 737.8v5.1M1727.35 922.45v-5.1M1727.35 737.8v5.1M1835.67 922.45v-5.1M1835.67 737.8v5.1M1944 922.45v-5.1M1944 737.8v5.1M1510.7 922.45h5.1M1944 922.45h-5.1M1510.7 830.47h5.1M1944 830.47h-5.1M1510.7 738.49h5.1M1944 738.49h-5.1" stroke="#303030" stroke-width="1" fill="none"/>
<rect x="1510.7" y="737.8" width="433.3" height="184.65" fill="none" stroke="#303030" stroke-width="1.2"/>
<path d="M1510.7 922.45V916.1H1537.78V922.45ZM1537.78 922.45V842.15H1564.86V922.45ZM1564.86 922.45V741.25H1591.94V922.45ZM1591.94 922.45V871.03H1619.03V922.45ZM1619.03 922.45V900.7H1646.11V922.45ZM1646.11 922.45V912.65H1673.19V922.45ZM1673.19 922.45V910.54H1700.27V922.45ZM1700.27 922.45V913.44H1727.35V922.45ZM1727.35 922.45V912.38H1754.43V922.45ZM1754.43 922.45V914.77H1781.51V922.45ZM1781.51 922.45V914.22H1808.59V922.45ZM1808.59 922.45V913.16H1835.67V922.45ZM1835.67 922.45V894.35H1862.76V922.45ZM1862.76 922.45V921.99H1889.84V922.45ZM1889.84 922.45V922.22H1916.92V922.45ZM1916.92 922.45V921.99H1944V922.45Z" fill="#b3b3b3" stroke="#000" stroke-opacity="0.7" stroke-width="1.45" stroke-linejoin="miter"/>
<g font-size="21.0" fill="#424242">
<text x="1504.4" y="931.12" text-anchor="end">0</text>
<text x="1504.4" y="839.14" text-anchor="end">200</text>
<text x="1504.4" y="747.16" text-anchor="end">400</text>
<text x="1510.7" y="950.25" text-anchor="middle">0</text>
<text x="1619.03" y="950.25" text-anchor="middle">2</text>
<text x="1727.35" y="950.25" text-anchor="middle">4</text>
<text x="1835.67" y="950.25" text-anchor="middle">6</text>
<text x="1944" y="950.25" text-anchor="middle">8</text>
</g>
</g>
<g>
<path d="M1855 756.3V845M1882.87 756.3V845M1910.73 756.3V845M1938.6 756.3V845M1855 845H1938.6M1855 815.43H1938.6M1855 785.87H1938.6M1855 756.3H1938.6" stroke="#dfdfdf" stroke-width="1.1" fill="none"/>
<path d="M1855 845v-1.5M1855 756.3v1.5M1882.87 845v-1.5M1882.87 756.3v1.5M1910.73 845v-1.5M1910.73 756.3v1.5M1938.6 845v-1.5M1938.6 756.3v1.5M1855 845h1.5M1938.6 845h-1.5M1855 815.43h1.5M1938.6 815.43h-1.5M1855 785.87h1.5M1938.6 785.87h-1.5M1855 756.3h1.5M1938.6 756.3h-1.5" stroke="#303030" stroke-width="1" fill="none"/>
<rect x="1855" y="756.3" width="83.6" height="88.7" fill="none" stroke="#303030" stroke-width="1.2"/>
<path d="M1855 845V785.87H1882.87V845ZM1882.87 845V815.43H1910.73V845ZM1910.73 845V785.87H1938.6V845Z" fill="#b3b3b3" stroke="#000" stroke-opacity="0.7" stroke-width="1.45" stroke-linejoin="miter"/>
<g font-size="20.2" fill="#424242">
<text x="1851" y="852.68" text-anchor="end">0</text>
<text x="1851" y="823.11" text-anchor="end">1</text>
<text x="1851" y="793.55" text-anchor="end">2</text>
<text x="1851" y="763.98" text-anchor="end">3</text>
<text x="1855" y="869.6" text-anchor="middle">6.5</text>
<text x="1882.87" y="869.6" text-anchor="middle">7</text>
<text x="1910.73" y="869.6" text-anchor="middle">7.5</text>
<text x="1938.6" y="869.6" text-anchor="middle">8</text>
</g>
</g>
<line x1="1899.5" x2="1899.5" y1="868.3" y2="907" stroke="#000" stroke-width="1.3"/>
<path d="M1899.5 924.2 L1889.9 898.4 L1899.5 906.2 L1909.2 898.4 Z" fill="#000"/>
<g fill="#424242" text-anchor="middle">
<text font-size="22.4" transform="translate(25.1 336) rotate(-90)">Proportion with presence</text>
<text font-size="22.7" transform="translate(19.4 820.7) rotate(-90)">Number of sonobuoys</text>
<text font-size="22.5" x="260.8" y="960.4">Degree Latitude</text>
<text font-size="22.55" x="723.5" y="981.6">Degree Longitude</text>
<text font-size="23.15" x="1213.1" y="979.7">Week of year</text>
<text font-size="23.1" x="1727.1" y="980.8">Duration of redcording (h)</text>
</g>
</svg>
</body></html>
